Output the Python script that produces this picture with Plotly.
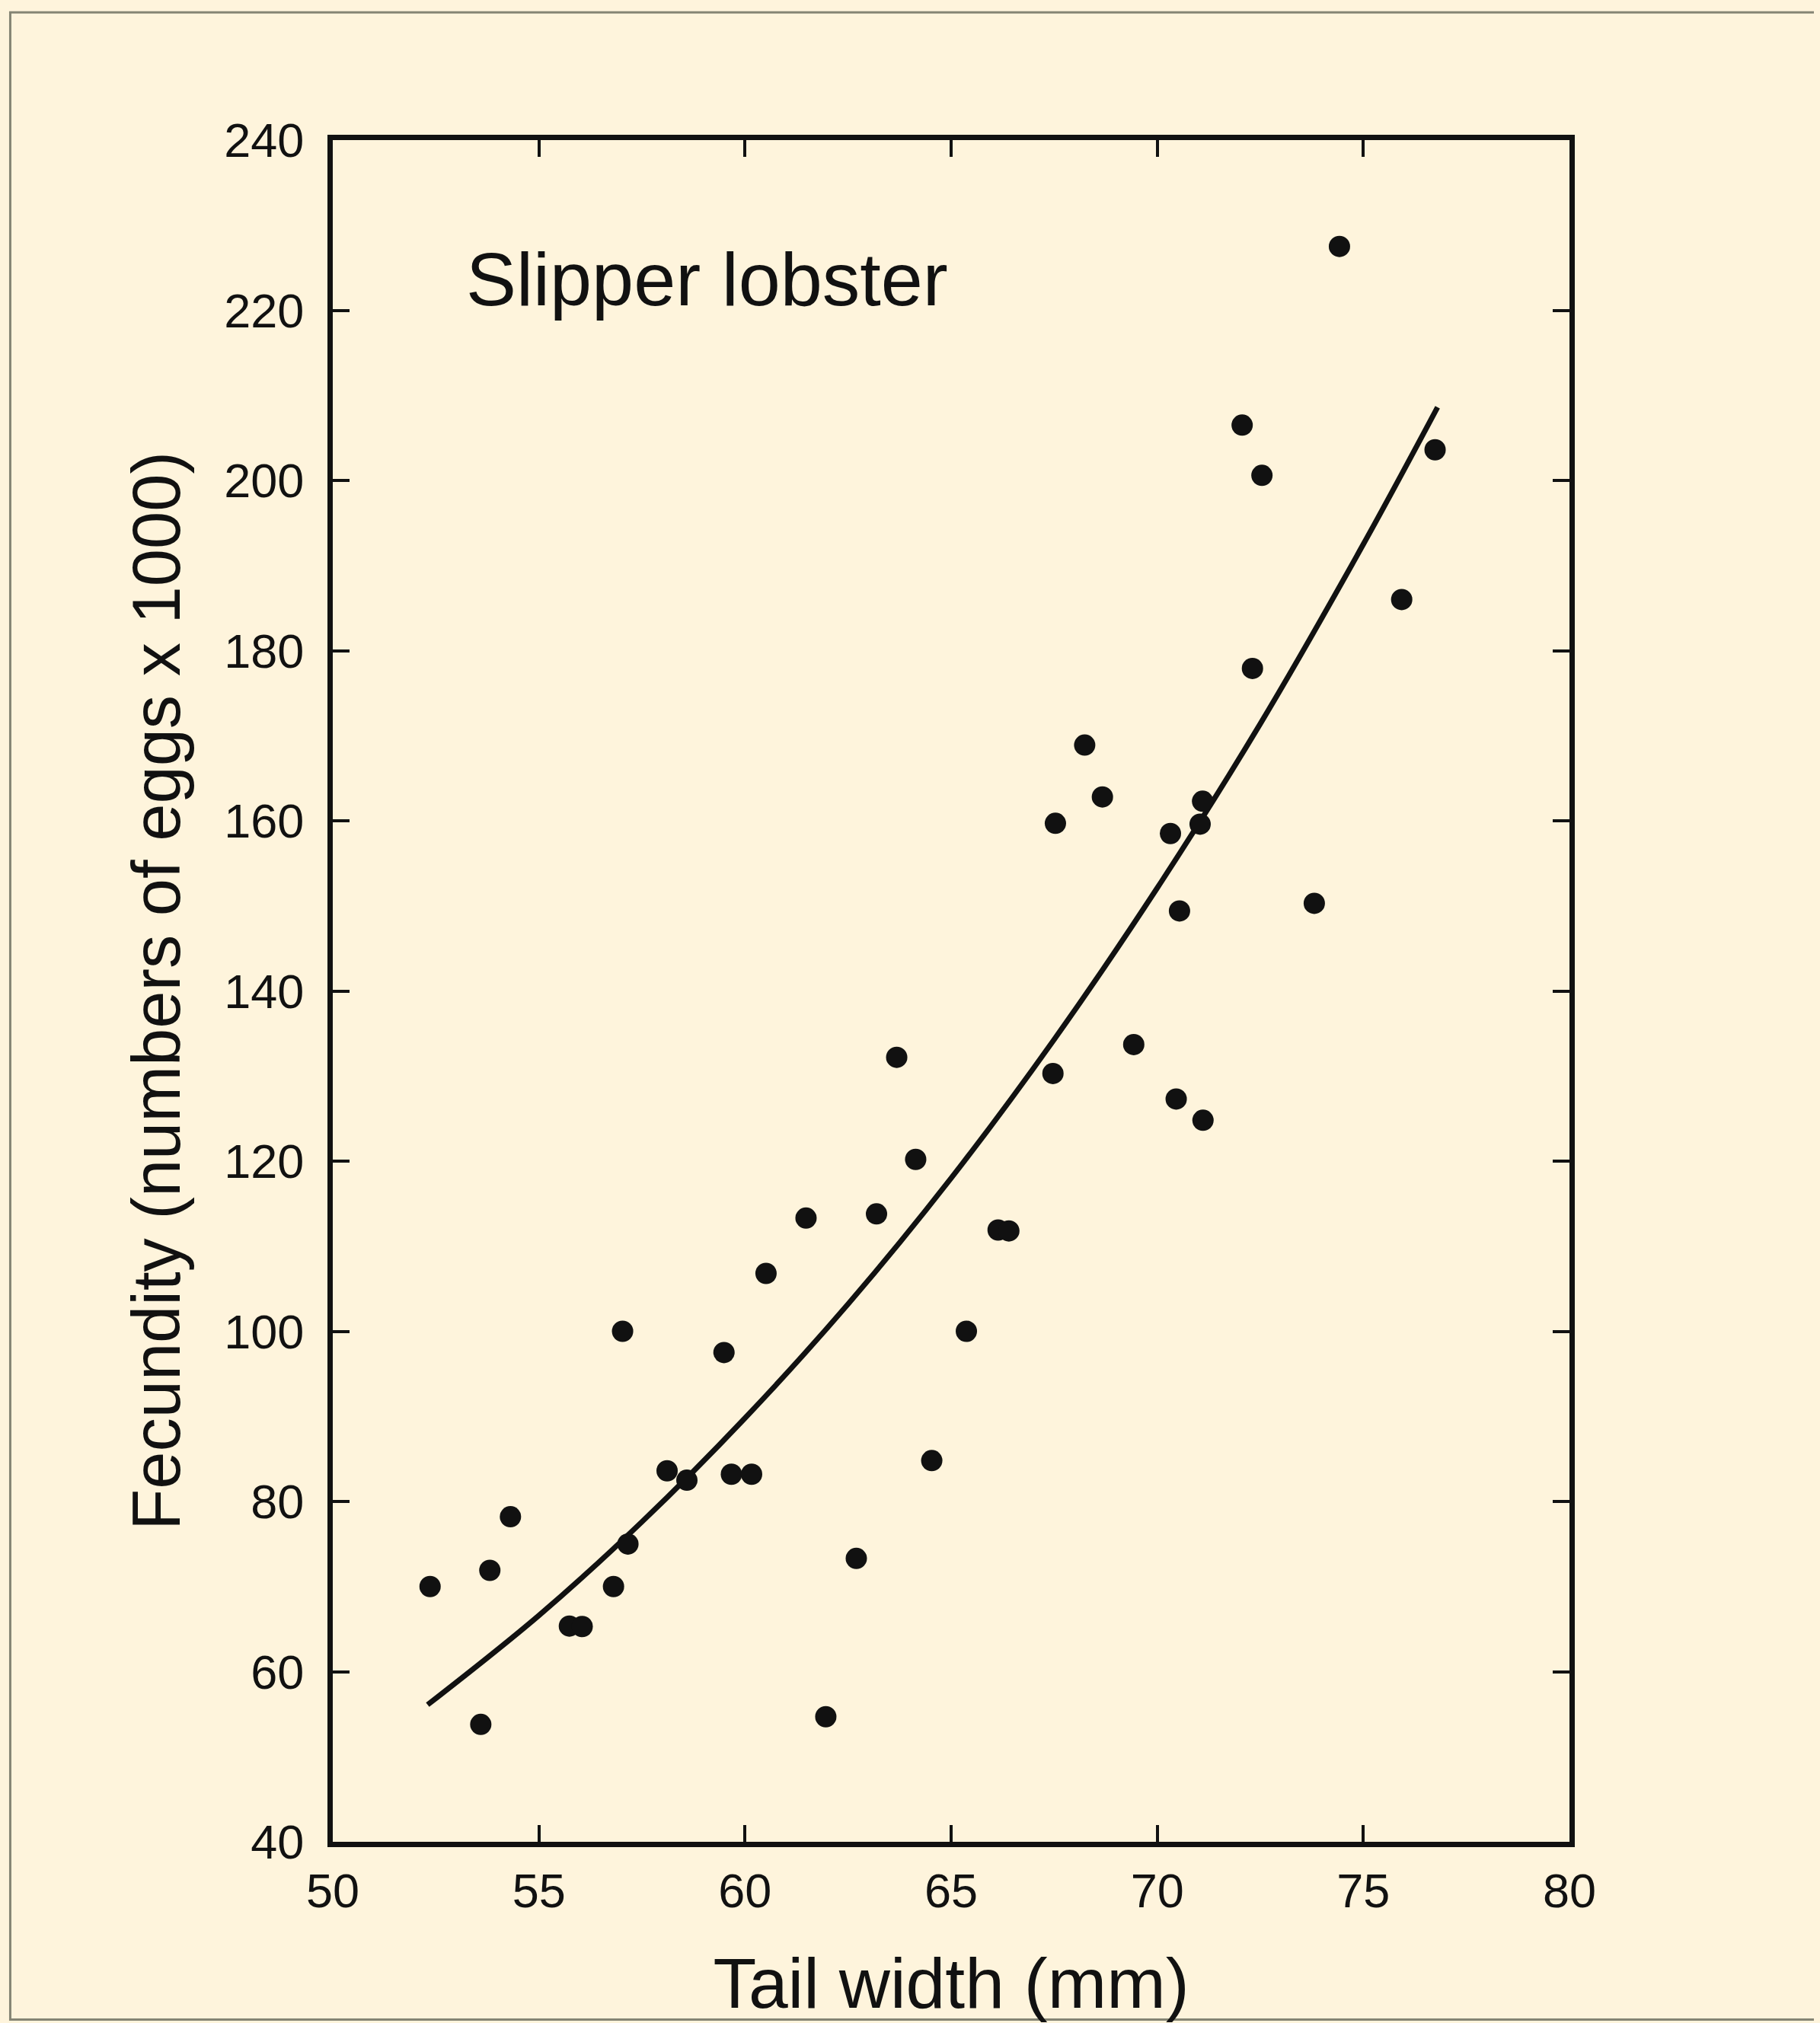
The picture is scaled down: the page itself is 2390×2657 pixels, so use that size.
import plotly.graph_objects as go

# Scatter data (tail width mm, fecundity x1000 eggs)
tail_width = [52.36, 53.59, 53.81, 54.31, 55.74, 56.05, 56.81, 57.03, 57.16, 58.11,
              58.59, 59.49, 59.67, 60.16, 60.51, 61.48, 61.96, 62.70, 63.19, 63.68,
              64.14, 64.53, 65.37, 66.14, 66.40, 67.47, 67.53, 68.24, 68.67, 69.43,
              70.32, 70.46, 70.54, 71.04, 71.10, 71.11, 72.06, 72.31, 72.54, 73.81,
              74.42, 75.93, 76.74]
fecundity = [70.0, 53.8, 71.9, 78.2, 65.35, 65.3, 70.0, 100.0, 75.0, 83.6,
             82.5, 97.5, 83.2, 83.2, 106.8, 113.3, 54.7, 73.3, 113.8, 132.2,
             120.2, 84.8, 100.0, 111.9, 111.8, 130.3, 159.7, 168.9, 162.8, 133.7,
             158.5, 127.3, 149.4, 159.6, 162.3, 124.8, 206.5, 177.9, 200.6, 150.3,
             227.5, 186.0, 203.6]

# Fitted curve
curve_x = [52.3, 55.0, 57.5, 60.0, 62.5, 65.0, 67.5, 70.0, 72.5, 75.0, 76.8]
curve_y = [56.1, 66.6, 77.6, 89.8, 103.2, 118.0, 134.3, 152.1, 171.4, 192.5, 208.6]

x_ticks = [50, 55, 60, 65, 70, 75, 80]
y_ticks = [40, 60, 80, 100, 120, 140, 160, 180, 200, 220, 240]

BG = "#FEF4DC"
INK = "#111111"
FONT = "Liberation Sans, Arial, Helvetica, sans-serif"

fig = go.Figure()
fig.add_trace(go.Scatter(x=curve_x, y=curve_y, mode="lines",
                         line=dict(color=INK, width=7, shape="spline"),
                         hoverinfo="skip", showlegend=False))
fig.add_trace(go.Scatter(x=tail_width, y=fecundity, mode="markers",
                         marker=dict(color=INK, size=28, line=dict(width=0)),
                         showlegend=False))

axis_common = dict(showline=True, linewidth=7, linecolor=INK, mirror="allticks",
                   ticks="inside", ticklen=22, tickwidth=4, tickcolor=INK,
                   showgrid=False, zeroline=False,
                   tickfont=dict(family=FONT, size=63, color=INK))

fig.update_xaxes(range=[50, 80], tickvals=x_ticks, ticklabelstandoff=3,
                 title=dict(text="Tail width (mm)", standoff=66,
                            font=dict(family=FONT, size=93, color=INK)),
                 **axis_common)
fig.update_yaxes(range=[40, 240], tickvals=y_ticks, ticklabelstandoff=18,
                 title=dict(text="Fecundity (numbers of eggs x 1000)", standoff=31,
                            font=dict(family=FONT, size=88.5, color=INK)),
                 **axis_common)

fig.add_annotation(x=53.2, y=223.7, xref="x", yref="y", text="Slipper lobster",
                   showarrow=False, xanchor="left", yanchor="middle",
                   font=dict(family=FONT, size=99, color=INK))

# outer frame
fig.add_shape(type="rect", xref="paper", yref="paper",
              x0=-0.2608, x1=1.2003, y0=-0.1045, y1=1.0751,
              line=dict(color="#858574", width=3), fillcolor="rgba(0,0,0,0)", layer="below")

# the page adds an 8px body margin; size the figure so the plot area lands where the reference has it
fig.update_layout(width=2382, height=2649,
                  margin=dict(l=429, r=329, t=176, b=238, autoexpand=False),
                  paper_bgcolor=BG, plot_bgcolor=BG,
                  font=dict(family=FONT, color=INK))

fig.write_html("out.html",
               post_script="document.body.style.background='%s';" % BG)
